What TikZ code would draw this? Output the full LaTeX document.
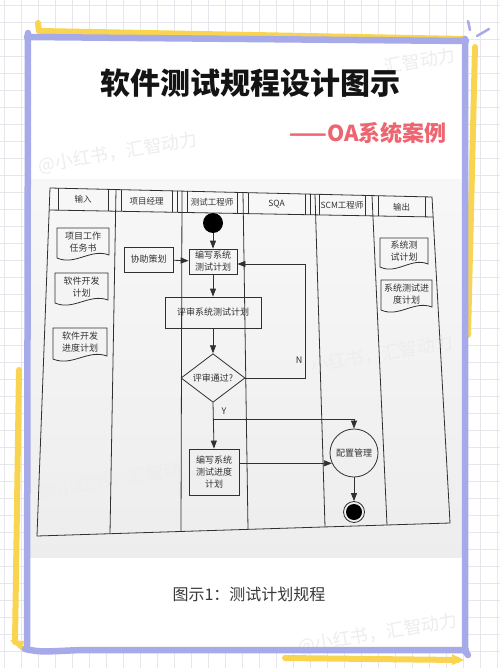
\documentclass[tikz,border=0pt]{standalone}
\usepackage{fontspec}
\setmainfont{Noto Sans CJK SC}
\usetikzlibrary{arrows.meta,calc,shapes.geometric}
\definecolor{purp}{HTML}{A7AAE8}
\definecolor{yel}{HTML}{F9D451}
\definecolor{gridc}{HTML}{E6E6EC}
\definecolor{subred}{HTML}{EC6570}
\definecolor{ink}{HTML}{303030}
\newcommand\docshape[6]{%
  \node[doctext] (#1) at ({(#2+#3)/2},{(#4+#5)/2-1}) {#6};
  \draw[diag] (#2,#4) -- (#3,#4) -- (#3,#5-3)
    .. controls ({#3-0.35*(#3-#2)},#5-10) and ({#3-0.65*(#3-#2)},#5+8) .. (#2,#5) -- cycle;
}
\begin{document}
\begin{tikzpicture}[x=1pt,y=-1pt,
  gridline/.style={draw=gridc,line width=0.8pt},
  purpstroke/.style={draw=purp,line width=6.5pt,line cap=round,line join=round},
  yelstroke/.style={draw=yel,line width=6pt,line cap=round,line join=round},
  wm/.style={text=black!7,font=\fontsize{18}{18}\selectfont,rotate=10},
  diag/.style={draw=ink,line width=0.8pt},
  box/.style={diag,rectangle,inner sep=1pt,align=center,font=\fontsize{9}{12}\selectfont,text=black!80},
  doctext/.style={inner sep=0pt,align=center,font=\fontsize{9}{12}\selectfont,text=black!80},
  hdr/.style={inner sep=0pt,font=\fontsize{8.5}{10}\selectfont,text=black!80},
  lbl/.style={inner sep=0pt,font=\fontsize{9}{10}\selectfont,text=black!80},
  arr/.style={diag,-{Triangle[length=8pt,width=6pt]}},
]
\useasboundingbox (0,0) rectangle (500,668);
% background grid
\fill[white] (0,0) rectangle (500,668);
\foreach \x in {4,21,...,500} \draw[gridline] (\x,0) -- (\x,668);
\foreach \y in {5,22,...,668} \draw[gridline] (0,\y) -- (500,\y);
% card
\fill[white] (28,37) -- (466,41) -- (466,650) -- (27,650) -- cycle;
\shade[top color=black!3,bottom color=black!7] (30,180) rectangle (462,557);
% watermarks
\node[wm] (wm1) at (118,153) {@小红书，汇智动力};
\node[wm] (wm2) at (420,61) {汇智动力};
\node[wm] (wm3) at (382,354) {小红书，汇智动力};
\node[wm] (wm4) at (120,480) {@小红书，汇智动力};
\node[wm] (wm5) at (378,634) {@小红书，汇智动力};
% yellow strokes
\draw[yelstroke] (38,23) -- (39,31) -- (465,39);
\draw[yelstroke] (475,47) -- (468,335);
\draw[yelstroke] (19,370) -- (15,642);
\fill[yel] (10,640) -- (24,641) -- (22,651) -- cycle;
\draw[yelstroke] (285,658) -- (458,660);
\fill[yel] (452,654) -- (464,660) -- (452,665) -- cycle;
% purple frame
\draw[purpstroke] (28,33) -- (27,646);
\draw[purpstroke] (27,37) -- (466,41);
\draw[purpstroke] (465,39) -- (465,651) -- (468,655);
\draw[purpstroke] (25,649) .. controls (40,652) .. (80,650) -- (466,650);
\draw[draw=purp,line width=2.5pt,line cap=round] (468,21) -- (470,30);
\draw[draw=purp,line width=2.5pt,line cap=round] (477,36) -- (489,29);
% titles
\node[inner sep=0pt,font=\fontsize{30}{30}\selectfont\bfseries,text=black!92] (title) at (250,83) {软件测试规程设计图示};
\node[inner sep=0pt,anchor=east,font=\fontsize{22}{22}\selectfont\bfseries,text=subred] (subtitle) at (447,133) {——OA系统案例};
\node[inner sep=0pt,font=\fontsize{16}{16}\selectfont,text=black!78] (caption) at (249,594) {图示1：测试计划规程};
% swimlane frame (slightly skewed like the photo)
\draw[diag] (50,188) -- (432,197) -- (450,523) -- (37,536) -- cycle;
\draw[diag] (49.2,210) -- (433.1,217);
\draw[diag] (116,189.6) -- (110,533.7);
\draw[diag] (182,191.1) -- (181,531.5);
\draw[diag] (243,192.5) -- (248,529.4);
\draw[diag] (315,194.2) -- (325,526.9);
\draw[diag] (372,195.6) -- (387,525.0);
\foreach \hx in {58,108,121,172,177,187,237,248,305,310,319,365,378,425}{
  \pgfmathsetmacro\ht{188+9*(\hx-50)/382}
  \pgfmathsetmacro\hb{210+7*(\hx-49)/384}
  \draw[diag] (\hx,\ht) -- (\hx,\hb);
}
\node[hdr] (h1) at (83,199.5) {输入};
\node[hdr] (h2) at (146.5,201) {项目经理};
\node[hdr] (h3) at (212,202.5) {测试工程师};
\node[hdr] (h4) at (276.5,204) {SQA};
\node[hdr] (h5) at (342,205.5) {SCM工程师};
\node[hdr] (h6) at (401.5,207) {输出};
% documents
\docshape{in1}{57}{109}{228}{258}{项目工作\\任务书}
\docshape{in2}{55}{108}{273}{303}{软件开发\\计划}
\docshape{in3}{53}{107}{328}{359}{软件开发\\进度计划}
\docshape{out1}{380}{428}{238}{267}{系统测\\试计划}
\docshape{out2}{381}{432}{280}{310}{系统测试进\\度计划}
% activity nodes
\node[circle,fill=black,minimum size=20pt,inner sep=0pt] (start) at (213,223) {};
\node[box,minimum width=48pt,minimum height=25pt] (bianxie) at (213,261.5) {编写系统\\测试计划};
\node[box,minimum width=49pt,minimum height=25pt] (xiezhu) at (148.5,259.5) {协助策划};
\node[box,minimum width=96pt,minimum height=31pt] (pingshen) at (213,312.5) {评审系统测试计划};
\node[diag,diamond,minimum width=64pt,minimum height=48pt,inner sep=0pt,font=\fontsize{9}{10}\selectfont,text=black!80] (tongguo) at (213,378) {评审通过?};
\node[box,minimum width=50pt,minimum height=46pt] (jindu) at (214,472) {编写系统\\测试进度\\计划};
\node[diag,circle,minimum size=48pt,inner sep=0pt,font=\fontsize{9}{10}\selectfont,text=black!80] (peizhi) at (354,453) {配置管理};
\node[diag,circle,minimum size=21pt,inner sep=0pt] (end) at (354,512) {};
\fill[black] (end.center) circle (8);
% connectors
\coordinate (nA) at (305,378);
\coordinate (nB) at (305,264);
\coordinate (ybr) at (213,419);
\draw[arr] (start) -- (bianxie);
\draw[arr] (xiezhu) -- (bianxie);
\draw[arr] (bianxie) -- (pingshen);
\draw[arr] (pingshen) -- (tongguo);
\draw[arr] (tongguo.east) -- (nA) -- (nB) -- (nB -| bianxie.east);
\draw[arr] (tongguo.south) -- (jindu.north);
\draw[arr] (ybr) -- (ybr -| peizhi.north) -- (peizhi.north);
\draw[arr] (jindu.east |- peizhi.205) -- (peizhi.205);
\draw[arr] (peizhi) -- (end);
\node[lbl] (nlbl) at (299,360) {N};
\node[lbl] (ylbl) at (224,411) {Y};
\end{tikzpicture}
\end{document}
